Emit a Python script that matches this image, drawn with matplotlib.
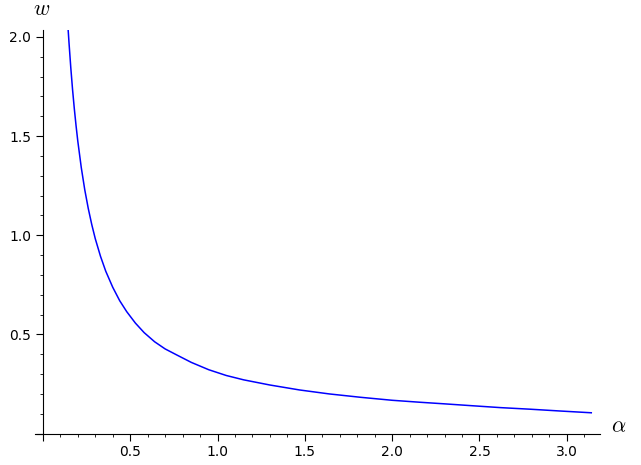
import matplotlib
matplotlib.use("Agg")
import matplotlib.pyplot as plt
from matplotlib.ticker import MultipleLocator, FuncFormatter

# values
alpha = [0.143, 0.15, 0.16, 0.17, 0.18, 0.19, 0.20, 0.22, 0.24, 0.26,
         0.28, 0.30, 0.33, 0.36, 0.40, 0.44, 0.48, 0.53, 0.58, 0.64,
         0.70, 0.77, 0.85, 0.95, 1.05, 1.15, 1.30, 1.47, 1.64, 1.82,
         2.00, 2.16, 2.30, 2.45, 2.62, 2.79, 2.96, 3.14]
w = [2.06, 1.967, 1.844, 1.735, 1.639, 1.553, 1.475, 1.341, 1.229, 1.135,
     1.054, 0.983, 0.894, 0.819, 0.738, 0.670, 0.615, 0.557, 0.509, 0.463,
     0.427, 0.395, 0.359, 0.322, 0.293, 0.271, 0.245, 0.220, 0.200, 0.183,
     0.168, 0.158, 0.150, 0.141, 0.131, 0.123, 0.114, 0.105]

plt.rcParams["mathtext.fontset"] = "cm"

fig = plt.figure(figsize=(6.41, 4.65), dpi=100)
ax = fig.add_axes([35 / 641, 1 - 433.6 / 465, 565 / 641, 403.6 / 465])

ax.plot(alpha, w, color="blue", lw=1.1)

ax.set_xlim(-0.045, 3.19)
ax.set_ylim(0, 2.035)

# axes through the origin, sage style
ax.spines["left"].set_position(("data", 0))
ax.spines["bottom"].set_position(("data", 0))
ax.spines["top"].set_visible(False)
ax.spines["right"].set_visible(False)

ax.xaxis.set_major_locator(MultipleLocator(0.5))
ax.xaxis.set_minor_locator(MultipleLocator(0.1))
ax.yaxis.set_major_locator(MultipleLocator(0.5))
ax.yaxis.set_minor_locator(MultipleLocator(0.1))
fmt = FuncFormatter(lambda v, p: "" if abs(v) < 1e-9 else f"{v:.1f}")
ax.xaxis.set_major_formatter(fmt)
ax.yaxis.set_major_formatter(fmt)
ax.tick_params(which="major", length=5, direction="out", labelsize=10)
ax.tick_params(which="minor", length=2.5, direction="out")

fig.text(42 / 641, 1 - 9 / 465, "$w$", fontsize=16, ha="center", va="center")
fig.text(619 / 641, 1 - 426 / 465, r"$\alpha$", fontsize=16, ha="center", va="center")

fig.savefig("out.png", dpi=100)
